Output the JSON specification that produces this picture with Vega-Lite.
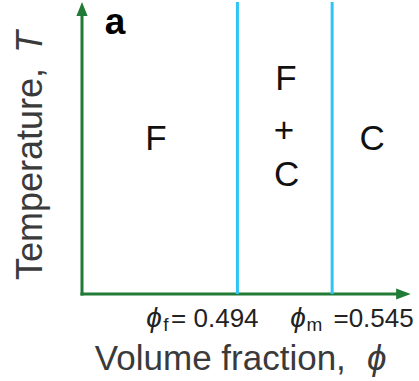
{
  "$schema": "https://vega.github.io/schema/vega-lite/v6.json",
  "width": 330,
  "height": 292,
  "padding": {"left": 82, "top": 2, "right": 7, "bottom": 87},
  "autosize": {"type": "none"},
  "background": "white",
  "config": {"view": {"stroke": null}, "text": {"font": "Liberation Sans"}},
  "layer": [
    {
      "data": {"values": [
        {"x1": 0, "y1": 0, "x2": 96.5, "y2": 0},
        {"x1": 0, "y1": 0, "x2": 0, "y2": 95}
      ]},
      "mark": {"type": "rule", "color": "#217a35", "strokeWidth": 3, "strokeCap": "square"},
      "encoding": {
        "x": {"field": "x1", "type": "quantitative", "scale": {"domain": [0, 100], "nice": false, "zero": false}, "axis": null},
        "x2": {"field": "x2"},
        "y": {"field": "y1", "type": "quantitative", "scale": {"domain": [0, 100], "nice": false, "zero": false}, "axis": null},
        "y2": {"field": "y2"}
      }
    },
    {
      "data": {"values": [
        {"boundary": "phi_f", "x": 47.1, "ylo": 0, "yhi": 100},
        {"boundary": "phi_m", "x": 75.8, "ylo": 0, "yhi": 100}
      ]},
      "mark": {"type": "rule", "color": "#2ec5f5", "strokeWidth": 3},
      "encoding": {
        "x": {"field": "x", "type": "quantitative", "axis": null},
        "y": {"field": "ylo", "type": "quantitative", "axis": null},
        "y2": {"field": "yhi"}
      }
    },
    {
      "data": {"values": [{"x": 0, "y": 97.6}]},
      "mark": {"type": "point", "shape": "M0,-1L0.8,1L-0.8,1Z", "size": 196, "filled": true, "color": "#217a35", "opacity": 1},
      "encoding": {
        "x": {"field": "x", "type": "quantitative", "axis": null},
        "y": {"field": "y", "type": "quantitative", "axis": null}
      }
    },
    {
      "data": {"values": [{"x": 97.4, "y": 0}]},
      "mark": {"type": "point", "shape": "M1,0L-1,0.75L-1,-0.75Z", "size": 213, "filled": true, "color": "#217a35", "opacity": 1},
      "encoding": {
        "x": {"field": "x", "type": "quantitative", "axis": null},
        "y": {"field": "y", "type": "quantitative", "axis": null}
      }
    },
    {
      "data": {"values": [
        {"t": "F", "x": 22.4, "y": 49.3},
        {"t": "F", "x": 61.8, "y": 69.9},
        {"t": "+", "x": 61.2, "y": 52.2},
        {"t": "C", "x": 62.0, "y": 37.0},
        {"t": "C", "x": 87.9, "y": 49.3}
      ]},
      "mark": {"type": "text", "fontSize": 35, "color": "#111111", "align": "center", "baseline": "alphabetic"},
      "encoding": {
        "x": {"field": "x", "type": "quantitative", "axis": null},
        "y": {"field": "y", "type": "quantitative", "axis": null},
        "text": {"field": "t"}
      }
    },
    {
      "data": {"values": [{"t": "a", "x": 10.0, "y": 89.0}]},
      "mark": {"type": "text", "fontSize": 37, "fontWeight": "bold", "color": "#000000", "align": "center", "baseline": "alphabetic"},
      "encoding": {
        "x": {"field": "x", "type": "quantitative", "axis": null},
        "y": {"field": "y", "type": "quantitative", "axis": null},
        "text": {"field": "t"}
      }
    },
    {
      "data": {"values": [
        {"t": "= 0.494", "x": 27.0, "y": -11.3},
        {"t": "=0.545", "x": 76.2, "y": -11.3}
      ]},
      "mark": {"type": "text", "fontSize": 26, "color": "#222222", "align": "left", "baseline": "alphabetic"},
      "encoding": {
        "x": {"field": "x", "type": "quantitative", "axis": null},
        "y": {"field": "y", "type": "quantitative", "axis": null},
        "text": {"field": "t"}
      }
    },
    {
      "data": {"values": [
        {"t": "ϕ", "x": 19.5, "y": -11.3},
        {"t": "ϕ", "x": 63.1, "y": -11.3}
      ]},
      "mark": {"type": "text", "fontSize": 28, "fontStyle": "italic", "color": "#222222", "align": "left", "baseline": "alphabetic"},
      "encoding": {
        "x": {"field": "x", "type": "quantitative", "axis": null},
        "y": {"field": "y", "type": "quantitative", "axis": null},
        "text": {"field": "t"}
      }
    },
    {
      "data": {"values": [
        {"t": "f", "x": 24.6, "y": -12.7},
        {"t": "m", "x": 68.0, "y": -12.7}
      ]},
      "mark": {"type": "text", "fontSize": 19, "color": "#222222", "align": "left", "baseline": "alphabetic"},
      "encoding": {
        "x": {"field": "x", "type": "quantitative", "axis": null},
        "y": {"field": "y", "type": "quantitative", "axis": null},
        "text": {"field": "t"}
      }
    },
    {
      "data": {"values": [{"t": "Volume fraction, ", "x": 3.9, "y": -26.0}]},
      "mark": {"type": "text", "fontSize": 35, "color": "#3a3a3a", "align": "left", "baseline": "alphabetic"},
      "encoding": {
        "x": {"field": "x", "type": "quantitative", "axis": null},
        "y": {"field": "y", "type": "quantitative", "axis": null},
        "text": {"field": "t"}
      }
    },
    {
      "data": {"values": [{"t": "ϕ", "x": 86.4, "y": -26.0}]},
      "mark": {"type": "text", "fontSize": 35, "fontStyle": "italic", "color": "#3a3a3a", "align": "left", "baseline": "alphabetic"},
      "encoding": {
        "x": {"field": "x", "type": "quantitative", "axis": null},
        "y": {"field": "y", "type": "quantitative", "axis": null},
        "text": {"field": "t"}
      }
    },
    {
      "data": {"values": [{"t": "Temperature, ", "x": -12.1, "y": 4.8}]},
      "mark": {"type": "text", "fontSize": 36, "angle": 270, "color": "#3a3a3a", "align": "left", "baseline": "alphabetic"},
      "encoding": {
        "x": {"field": "x", "type": "quantitative", "axis": null},
        "y": {"field": "y", "type": "quantitative", "axis": null},
        "text": {"field": "t"}
      }
    },
    {
      "data": {"values": [{"t": "T", "x": -12.1, "y": 82.5}]},
      "mark": {"type": "text", "fontSize": 36, "angle": 270, "fontStyle": "italic", "color": "#3a3a3a", "align": "left", "baseline": "alphabetic"},
      "encoding": {
        "x": {"field": "x", "type": "quantitative", "axis": null},
        "y": {"field": "y", "type": "quantitative", "axis": null},
        "text": {"field": "t"}
      }
    }
  ]
}
